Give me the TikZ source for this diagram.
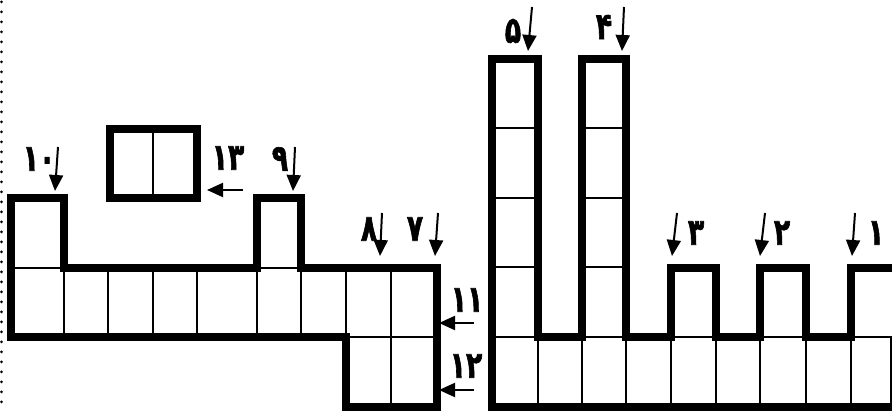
\documentclass[tikz,border=0pt]{standalone}
\usepackage{fontspec}
\newfontfamily\fa[Script=Arabic,FakeBold=1.6,FakeStretch=0.72]{DejaVu Sans}
\usetikzlibrary{arrows.meta}
\begin{document}
\begin{tikzpicture}[x=1pt,y=-1pt,
  outline/.style={line width=8pt, line join=miter},
  cellline/.style={line width=2pt},
  arr/.style={line width=2pt, -{Triangle[width=14pt,length=16pt]}},
  lbl/.style={inner sep=0pt, font=\fa\bfseries\fontsize{37}{39}\selectfont}]
\useasboundingbox (0,0) rectangle (892,411);
\clip (0,0) rectangle (892,411);
% dotted margin line
\draw[line width=3pt, dash pattern=on 0pt off 10pt, line cap=round] (1.5,2) -- (1.5,411);

% ---------- left figure: thin cell lines ----------
\foreach \x in {64,108,153,197,257,301,346,391}
  \draw[cellline] (\x,268) -- (\x,337);
\draw[cellline] (391,337) -- (391,407);
\draw[cellline] (11,268) -- (64,268);
\draw[cellline] (257,268) -- (301,268);
\draw[cellline] (346,337) -- (437,337);
% left figure outline
\draw[outline] (11,198) -- (64,198) -- (64,268) -- (257,268) -- (257,198) -- (301,198)
  -- (301,268) -- (437,268) -- (437,407) -- (346,407) -- (346,337) -- (11,337) -- cycle;
% separate box
\draw[cellline] (153,129) -- (153,198);
\draw[outline] (109.5,129) rectangle (197,198);

% ---------- right figure: thin cell lines ----------
\foreach \y in {128.5,198,267.5}{
  \draw[cellline] (492,\y) -- (537.5,\y);
  \draw[cellline] (581.5,\y) -- (626,\y);
}
\draw[cellline] (492,337) -- (892,337);
\foreach \x in {537.5,581.5,626,670.5,716,760,806,850.5,891}
  \draw[cellline] (\x,337) -- (\x,407);
% right figure outline
\draw[outline] (492,407) -- (492,59) -- (537.5,59) -- (537.5,337) -- (581.5,337) -- (581.5,59)
  -- (626,59) -- (626,337) -- (670.5,337) -- (670.5,268) -- (716,268) -- (716,337)
  -- (760,337) -- (760,268) -- (806,268) -- (806,337) -- (850.5,337) -- (850.5,268)
  -- (904,268) -- (904,407) -- cycle;

% ---------- labels ----------
\node[lbl] (l10) at (39,159) {۱۰};
\node[lbl] (l9)  at (280,159) {۹};
\node[lbl] (l13) at (228,158) {۱۳};
\node[lbl] (l8)  at (369,229) {۸};
\node[lbl] (l7)  at (415,229) {۷};
\node[lbl] (l11) at (467,300) {۱۱};
\node[lbl] (l12) at (466,366) {۱۲};
\node[lbl] (l5)  at (513,31) {۵};
\node[lbl] (l4)  at (604,27) {۴};
\node[lbl] (l3)  at (696,233) {۳};
\node[lbl] (l2)  at (782,233) {۲};
\node[lbl] (l1)  at (876,233) {۱};

% ---------- arrows ----------
\coordinate (s10) at (58,147);  \coordinate (t10) at (55,191);
\coordinate (s9)  at (295,147); \coordinate (t9)  at (293,191);
\coordinate (s13) at (243,190); \coordinate (t13) at (207,190);
\coordinate (s8)  at (382,213); \coordinate (t8)  at (380,256);
\coordinate (s7)  at (438,213); \coordinate (t7)  at (435,256);
\coordinate (s11) at (474,323); \coordinate (t11) at (439,323);
\coordinate (s12) at (474,390); \coordinate (t12) at (439,390);
\coordinate (s5)  at (532,7);   \coordinate (t5)  at (528,51);
\coordinate (s4)  at (624,7);   \coordinate (t4)  at (622,51);
\coordinate (s3)  at (677,213); \coordinate (t3)  at (672,256);
\coordinate (s2)  at (765,213); \coordinate (t2)  at (760,256);
\coordinate (s1)  at (855,213); \coordinate (t1)  at (852,256);
\foreach \n in {10,9,13,8,7,11,12,5,4,3,2,1}
  \draw[arr] (s\n) -- (t\n);
\end{tikzpicture}
\end{document}
